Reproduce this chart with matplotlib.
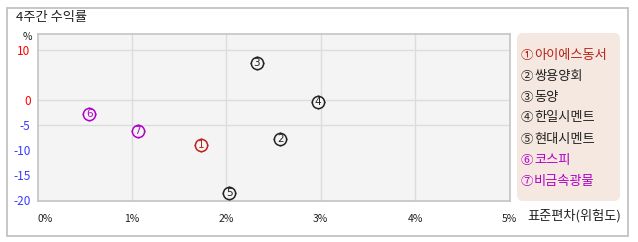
import matplotlib
matplotlib.use("Agg")
import matplotlib.pyplot as plt
from matplotlib.patches import Rectangle, FancyBboxPatch

plt.rcParams['font.family'] = ['Noto Sans CJK KR', 'DejaVu Sans']

# ---- data ----
names = ["아이에스동서", "쌍용양회", "동양", "한일시멘트", "현대시멘트", "코스피", "비금속광물"]
std_dev = [1.73, 2.57, 2.32, 2.97, 2.03, 0.55, 1.06]      # x, %
returns = [-9.0, -7.9, 7.4, -0.5, -18.7, -2.9, -6.3]       # y, %
circled = ["①", "②", "③", "④", "⑤", "⑥", "⑦"]
x_ticks = [0, 1, 2, 3, 4, 5]
x_tick_labels = ["0%", "1%", "2%", "3%", "4%", "5%"]
y_ticks = [10, 0, -5, -10, -15, -20]
y_tick_labels = ["10", "0", "-5", "-10", "-15", "-20"]
title = "4주간 수익률"
x_title = "표준편차(위험도)"

# ---- styles ----
RED = "#B8231B"
BLK = "#222222"
MAG = "#B000C8"
colors = [RED, BLK, BLK, BLK, BLK, MAG, MAG]
ytick_colors = ["#FF0000", "#FF0000", "#3A3AFF", "#3A3AFF", "#3A3AFF", "#3A3AFF"]

W, H = 638, 242
fig = plt.figure(figsize=(W / 100, H / 100), dpi=100)
fig.patch.set_facecolor("white")

def px(x0, y0, x1, y1):
    """pixel box (top-left origin) -> figure fraction [l, b, w, h]"""
    return [x0 / W, (H - y1) / H, (x1 - x0) / W, (y1 - y0) / H]

# outer border
fig.patches.append(Rectangle((6.5 / W, (H - 235.5) / H), 621 / W, 228 / H,
                             transform=fig.transFigure, fill=False,
                             edgecolor="#BDBDBD", linewidth=1.2))

ax = fig.add_axes(px(37.5, 34.3, 509.5, 201))
ax.set_facecolor("#F4F4F4")
ax.set_xlim(0, 5)
ax.set_ylim(-20.2, 13.1)
for s in ax.spines.values():
    s.set_color("#C4C4C4")
    s.set_linewidth(1.2)

# gridlines
for gx in [1, 2, 3, 4]:
    ax.axvline(gx, color="#DCDCDC", linewidth=1.0, zorder=0)
for gy in [10, 0, -5]:
    ax.axhline(gy, color="#DCDCDC", linewidth=1.0, zorder=0)

ax.set_xticks(x_ticks)
ax.set_xticklabels(x_tick_labels, fontsize=7.5, color="#222222")
ax.get_xticklabels()[0].set_horizontalalignment("left")
ax.set_yticks(y_ticks)
ax.set_yticklabels(y_tick_labels, fontsize=8.5)
for lbl, c in zip(ax.get_yticklabels(), ytick_colors):
    lbl.set_color(c)
ax.tick_params(length=0, pad=5)
ax.tick_params(axis="x", pad=9)

# markers
for i, (x, y) in enumerate(zip(std_dev, returns)):
    c = colors[i]
    ax.plot(x, y, marker="+", markersize=10.5, markeredgewidth=1.0,
            color=c, zorder=3, clip_on=False)
    ax.plot(x, y, marker="o", markersize=8.8, markeredgewidth=1.1,
            markerfacecolor="#F4F4F4", markeredgecolor=c, zorder=4, clip_on=False)
    ax.text(x, y, str(i + 1), fontsize=7.5, color=c, ha="center", va="center",
            zorder=5, family="DejaVu Sans")

# title and axis labels
fig.text(16 / W, 1 - 18 / H, title, fontsize=9.5, color="#222222",
         ha="left", va="center")
fig.text(27 / W, 1 - 37 / H, "%", fontsize=7.5, color="#222222",
         ha="center", va="center")
fig.text(527 / W, 1 - 216 / H, x_title, fontsize=9.5, color="#222222",
         ha="left", va="center")

# legend box
leg = FancyBboxPatch((5.22, 0.46), 0.93, 1.58,
                     boxstyle="round,pad=0.05,rounding_size=0.06",
                     transform=fig.dpi_scale_trans, facecolor="#F5E8E0",
                     edgecolor="none")
fig.patches.append(leg)
ys = [55, 76.5, 97.5, 118, 139, 160.5, 181.5]
for i, name in enumerate(names):
    fig.text(521 / W, 1 - ys[i] / H, circled[i], fontsize=9,
             color=colors[i], ha="left", va="center")
    fig.text(534 / W, 1 - ys[i] / H, name, fontsize=9.5,
             color=colors[i], ha="left", va="center")

fig.savefig("out.png", dpi=100)
